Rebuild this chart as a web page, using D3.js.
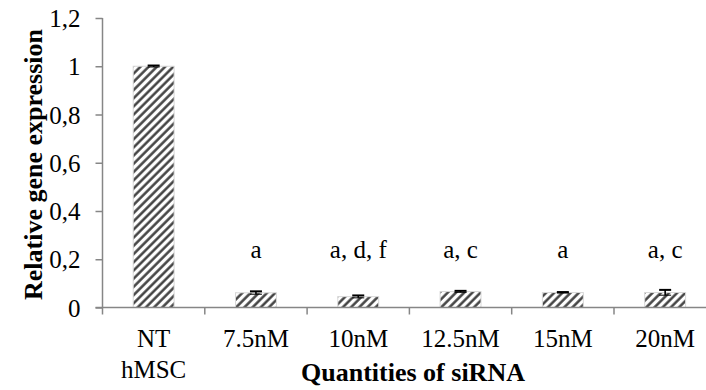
<!DOCTYPE html>
<html>
<head>
<meta charset="utf-8">
<script src="https://cdn.jsdelivr.net/npm/d3@7"></script>
<style>
  body { margin: 0; background: #fff; }
  text { font-family: "Liberation Serif", "Times New Roman", Times, serif; fill: #000; }
</style>
</head>
<body>
<div id="chart"></div>
<script>
// data
const groups = ["NT hMSC", "7.5nM", "10nM", "12.5nM", "15nM", "20nM"];
const values = [1.0, 0.061, 0.045, 0.066, 0.062, 0.062];
const errors = [0.003, 0.006, 0.005, 0.003, 0.002, 0.011];
const letters = ["", "a", "a, d, f", "a, c", "a", "a, c"];
const yTicks = [0, 0.2, 0.4, 0.6, 0.8, 1, 1.2];

const W = 706, H = 390;
const plotLeft = 102.5, plotBase = 307.5, plotTop = 18;
const serif = "Liberation Serif";
const fs = 25;

const svg = d3.select("#chart")
    .append("svg")
    .attr("width", W)
    .attr("height", H)
    .attr("font-family", serif);

// stripe pattern for bars
const defs = svg.append("defs");
const pat = defs.append("pattern")
    .attr("id", "stripes")
    .attr("patternUnits", "userSpaceOnUse")
    .attr("width", 5.8)
    .attr("height", 5.8)
    .attr("patternTransform", "rotate(45)");
pat.append("rect").attr("width", 5.8).attr("height", 5.8).attr("fill", "#fff");
pat.append("line")
    .attr("x1", 1.5).attr("y1", 0).attr("x2", 1.5).attr("y2", 5.8)
    .attr("stroke", "#3a3a3a").attr("stroke-width", 2.4);

const soft = defs.append("filter").attr("id", "soft")
    .attr("x", "-20%").attr("y", "-20%").attr("width", "140%").attr("height", "140%");
soft.append("feGaussianBlur").attr("stdDeviation", 0.6);

const x = d3.scaleBand()
    .domain(groups)
    .range([plotLeft, plotLeft + 6 * 102.3])
    .paddingInner(0);

const y = d3.scaleLinear()
    .domain([0, 1.2])
    .range([plotBase, plotTop]);

const data = groups.map((g, i) => ({g: g, v: values[i], e: errors[i], l: letters[i]}));

// bars
const bw = x.bandwidth() * 0.4;
svg.append("g")
    .selectAll("rect")
    .data(data)
    .join("rect")
    .attr("x", d => x(d.g) + x.bandwidth() / 2 - bw / 2)
    .attr("y", d => y(d.v))
    .attr("width", bw)
    .attr("height", d => plotBase - y(d.v))
    .attr("fill", "url(#stripes)")
    .attr("stroke", "#d8d8d8")
    .attr("stroke-width", 1)
    .attr("filter", "url(#soft)");

// error bars
const eb = svg.append("g").attr("stroke", "#000").attr("stroke-width", 1.6);
data.forEach(d => {
    const cx = x(d.g) + x.bandwidth() / 2;
    eb.append("line").attr("x1", cx).attr("x2", cx)
        .attr("y1", y(d.v - d.e)).attr("y2", y(d.v + d.e));
    eb.append("line").attr("x1", cx - 6).attr("x2", cx + 6)
        .attr("y1", y(d.v + d.e)).attr("y2", y(d.v + d.e)).attr("stroke-width", 2);
    eb.append("line").attr("x1", cx - 6).attr("x2", cx + 6)
        .attr("y1", y(d.v - d.e)).attr("y2", y(d.v - d.e)).attr("stroke-width", 1);
});

// Y axis
const yAxis = svg.append("g")
    .attr("transform", `translate(${plotLeft},0)`)
    .call(d3.axisLeft(y).tickValues(yTicks).tickSize(7)
        .tickFormat(d => String(d).replace(".", ",")));
yAxis.attr("font-family", serif).attr("font-size", fs);
yAxis.select(".domain").attr("stroke", "#868686").attr("stroke-width", 1.5)
    .attr("d", `M0,${plotTop}V${plotBase}`);
yAxis.selectAll(".tick line").attr("stroke", "#868686").attr("stroke-width", 1.5);
yAxis.selectAll(".tick text")
    .attr("x", -22)
    .attr("dy", "0.34em")
    .attr("fill", "#000");

// X axis line and ticks at band edges
const xg = svg.append("g").attr("stroke", "#868686").attr("stroke-width", 1.5);
xg.append("line").attr("x1", plotLeft - 7).attr("x2", W).attr("y1", plotBase).attr("y2", plotBase);
groups.forEach(g => {
    xg.append("line").attr("x1", x(g)).attr("x2", x(g)).attr("y1", plotBase).attr("y2", plotBase + 7);
});

// x tick labels
const xl = svg.append("g")
    .attr("font-size", fs)
    .attr("text-anchor", "middle");
data.forEach(d => {
    const t = xl.append("text").attr("x", x(d.g) + x.bandwidth() / 2).attr("y", 347);
    const parts = d.g === "NT hMSC" ? ["NT", "hMSC"] : [d.g];
    parts.forEach((p, i) => {
        t.append("tspan").attr("x", x(d.g) + x.bandwidth() / 2)
            .attr("dy", i === 0 ? 0 : 31).text(p);
    });
});

// significance letters
svg.append("g")
    .attr("font-size", fs)
    .attr("text-anchor", "middle")
    .selectAll("text")
    .data(data)
    .join("text")
    .attr("x", d => x(d.g) + x.bandwidth() / 2)
    .attr("y", 258)
    .text(d => d.l);

// axis titles
svg.append("text")
    .attr("x", 413)
    .attr("y", 381)
    .attr("text-anchor", "middle")
    .attr("font-size", 26)
    .attr("font-weight", "bold")
    .text("Quantities of siRNA");

svg.append("text")
    .attr("transform", "translate(42,164.5) rotate(-90)")
    .attr("text-anchor", "middle")
    .attr("font-size", 26)
    .attr("font-weight", "bold")
    .text("Relative gene expression");
</script>
</body>
</html>
